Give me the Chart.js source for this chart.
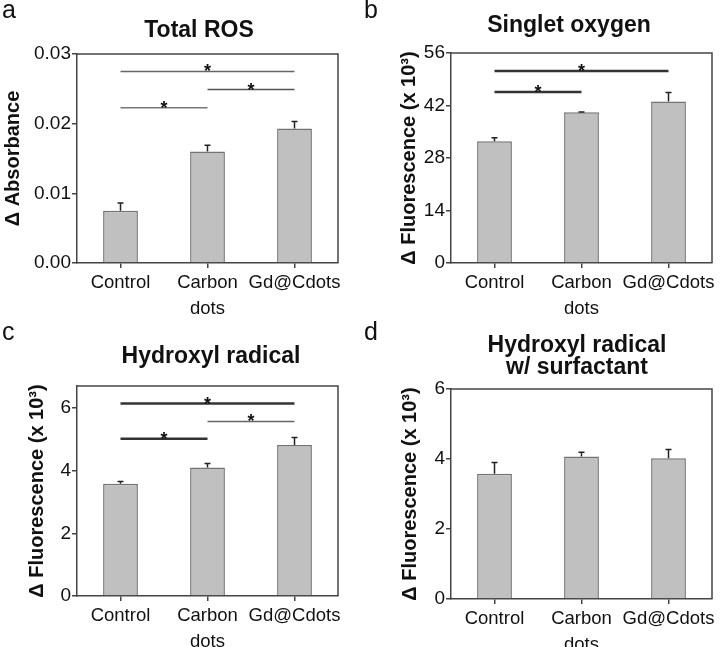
<!DOCTYPE html>
<html>
<head>
<meta charset="utf-8">
<script src="https://cdn.jsdelivr.net/npm/chart.js@4.4.0/dist/chart.umd.min.js"></script>
<style>
  body { margin: 0; background: #fff; }
  #wrap { position: relative; width: 724px; height: 647px; }
  canvas { position: absolute; }
</style>
</head>
<body>
<div id="wrap">
  <canvas id="pc" width="362" height="327" style="left:0;top:320px"></canvas>
  <canvas id="pd" width="362" height="327" style="left:362px;top:320px"></canvas>
  <canvas id="pa" width="362" height="330" style="left:0;top:0"></canvas>
  <canvas id="pb" width="362" height="330" style="left:362px;top:0"></canvas>
</div>
<script>
// Категории (общие для всех панелей)
const categories = [['Control'], ['Carbon', 'dots'], ['Gd@Cdots']];

// a: Total ROS
const rosValues = [0.0075, 0.0160, 0.0193];
const rosErrors = [0.0011, 0.0009, 0.0010];
const rosTicks = [0, 0.01, 0.02, 0.03];
const rosSig = [[0, 2, 0.0275], [1, 2, 0.0249], [0, 1, 0.0223]];

// b: Singlet oxygen
const singletValues = [32.5, 40.2, 43.1];
const singletErrors = [0.9, 0.1, 2.4];
const singletTicks = [0, 14, 28, 42, 56];
const singletSig = [[0, 2, 51.2], [0, 1, 45.6]];

// c: Hydroxyl radical
const hydroxylValues = [3.58, 4.10, 4.82];
const hydroxylErrors = [0.07, 0.13, 0.24];
const hydroxylTicks = [0, 2, 4, 6];
const hydroxylSig = [[0, 2, 6.14], [1, 2, 5.57], [0, 1, 5.02]];

// d: Hydroxyl radical w/ surfactant
const surfValues = [3.58, 4.07, 4.02];
const surfErrors = [0.32, 0.12, 0.25];
const surfTicks = [0, 2, 4, 6];
const surfSig = [];

const FONT = 'Liberation Sans, Arial, Helvetica, sans-serif';
const AXIS = '#444';

// Плагин: рамка, планки погрешностей, скобки значимости, заголовки
const extras = {
    id: 'extras',
    afterDatasetsDraw(chart, args, opts) {
        const { ctx, chartArea: a, scales: { x, y } } = chart;
        ctx.save();
        // рамка сверху и справа
        ctx.strokeStyle = AXIS;
        ctx.lineWidth = 1.5;
        ctx.beginPath();
        ctx.moveTo(a.left, a.top);
        ctx.lineTo(a.right, a.top);
        ctx.lineTo(a.right, a.bottom);
        ctx.stroke();

        // планки погрешностей (только вверх)
        const vals = chart.data.datasets[0].data;
        ctx.strokeStyle = '#222';
        ctx.lineWidth = 1.5;
        opts.errors.forEach((e, i) => {
            const px = x.getPixelForValue(i);
            const y0 = y.getPixelForValue(vals[i]);
            const y1 = y.getPixelForValue(vals[i] + e);
            ctx.beginPath();
            ctx.moveTo(px, y0);
            ctx.lineTo(px, y1);
            ctx.moveTo(px - 3, y1);
            ctx.lineTo(px + 3, y1);
            ctx.stroke();
        });

        // скобки значимости
        opts.sig.forEach(([i, j, v], k) => {
            const x0 = x.getPixelForValue(i), x1 = x.getPixelForValue(j);
            const py = y.getPixelForValue(v);
            ctx.strokeStyle = opts.sigColor[k];
            ctx.lineWidth = opts.sigWidth[k];
            ctx.beginPath();
            ctx.moveTo(x0, py);
            ctx.lineTo(x1, py);
            ctx.stroke();
            ctx.fillStyle = '#111';
            ctx.font = 'bold 18px ' + FONT;
            ctx.textAlign = 'center';
            ctx.textBaseline = 'alphabetic';
            ctx.fillText('*', (x0 + x1) / 2, py + 6);
        });
        ctx.restore();
    },
    afterDraw(chart, args, opts) {
        const { ctx } = chart;
        ctx.save();
        ctx.fillStyle = '#111';
        ctx.textAlign = 'center';
        ctx.textBaseline = 'alphabetic';
        ctx.font = 'bold 23px ' + FONT;
        opts.title.forEach((t, k) => ctx.fillText(t, opts.titleX, opts.titleY + k * 22));
        ctx.textAlign = 'left';
        ctx.font = '25px ' + FONT;
        ctx.fillText(opts.letter, 2, opts.letterY);
        ctx.restore();
    }
};

function makePanel(id, p) {
    const canvas = document.getElementById(id);
    const W = canvas.width, H = canvas.height;
    const xH = 62;
    return new Chart(canvas.getContext('2d'), {
        type: 'bar',
        data: {
            labels: categories,
            datasets: [{
                data: p.values,
                backgroundColor: '#c0c0c0',
                borderColor: '#737373',
                borderWidth: 1.5,
                barPercentage: 0.4,
                categoryPercentage: 1.0
            }]
        },
        options: {
            responsive: false,
            animation: false,
            layout: {
                padding: { left: p.pL, top: p.area.t, right: W - p.area.r, bottom: H - p.area.b - xH }
            },
            plugins: {
                legend: { display: false },
                tooltip: { enabled: false },
                extras: {
                    errors: p.errors, sig: p.sig, sigColor: p.sigColor, sigWidth: p.sigWidth,
                    title: p.title, titleX: p.titleX, titleY: p.titleY,
                    letter: p.letter, letterY: p.letterY
                }
            },
            scales: {
                x: {
                    afterFit: s => { s.height = xH; },
                    grid: { display: true, drawOnChartArea: false, offset: false, tickLength: 5, color: AXIS, lineWidth: 1.5 },
                    border: { display: true, color: AXIS, width: 1.5 },
                    ticks: { font: { family: FONT, size: 18.5, lineHeight: 1.4 }, color: '#111', padding: 2, maxRotation: 0, autoSkip: false }
                },
                y: {
                    min: 0,
                    max: p.max,
                    afterFit: s => { s.width = p.area.l - p.pL; },
                    afterBuildTicks: s => { s.ticks = p.ticks.map(v => ({ value: v })); },
                    grid: { display: true, drawOnChartArea: false, tickLength: 5, color: AXIS, lineWidth: 1.5 },
                    border: { display: true, color: AXIS, width: 1.5 },
                    ticks: { font: { family: FONT, size: 19 }, color: '#111', padding: 1, callback: p.fmt },
                    title: { display: true, text: p.yTitle, color: '#111', padding: 0, font: { family: FONT, size: 20, weight: 'bold', lineHeight: 1 } }
                }
            }
        },
        plugins: [extras]
    });
}

const fluoTitle = 'Δ Fluorescence (x 10³)';

makePanel('pa', {
    values: rosValues, errors: rosErrors, ticks: rosTicks, max: 0.03, sig: rosSig,
    sigColor: ['#666', '#555', '#777'], sigWidth: [1.5, 1.5, 1.5],
    fmt: v => v.toFixed(2), yTitle: 'Δ Absorbance',
    area: { l: 77, t: 54, r: 338, b: 263 }, pL: 3,
    title: ['Total ROS'], titleX: 199, titleY: 37, letter: 'a', letterY: 18
});
makePanel('pb', {
    values: singletValues, errors: singletErrors, ticks: singletTicks, max: 56, sig: singletSig,
    sigColor: ['#333', '#333'], sigWidth: [2.5, 2.5],
    fmt: v => String(v), yTitle: fluoTitle,
    area: { l: 89, t: 53, r: 350, b: 263 }, pL: 37,
    title: ['Singlet oxygen'], titleX: 207, titleY: 32, letter: 'b', letterY: 18
});
makePanel('pc', {
    values: hydroxylValues, errors: hydroxylErrors, ticks: hydroxylTicks, max: 6.7, sig: hydroxylSig,
    sigColor: ['#333', '#666', '#333'], sigWidth: [2.5, 1.5, 2.5],
    fmt: v => String(v), yTitle: fluoTitle,
    area: { l: 77, t: 66, r: 338, b: 262 + 14 }, pL: 27,
    title: ['Hydroxyl radical'], titleX: 211, titleY: 43, letter: 'c', letterY: 20
});
makePanel('pd', {
    values: surfValues, errors: surfErrors, ticks: surfTicks, max: 6, sig: surfSig,
    sigColor: [], sigWidth: [],
    fmt: v => String(v), yTitle: fluoTitle,
    area: { l: 89, t: 69, r: 350, b: 279 }, pL: 38,
    title: ['Hydroxyl radical', 'w/ surfactant'], titleX: 215, titleY: 32, letter: 'd', letterY: 20
});
</script>
</body>
</html>
